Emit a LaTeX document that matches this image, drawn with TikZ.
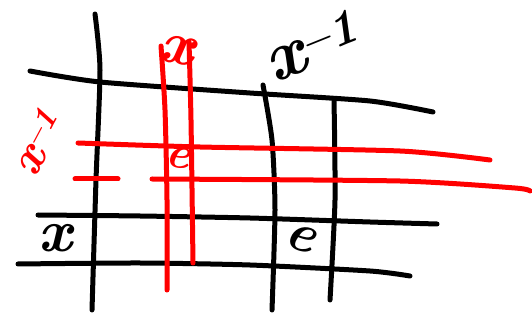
\documentclass[tikz,border=0pt]{standalone}
\begin{document}
\begin{tikzpicture}[x=1pt,y=-1pt,
  blk/.style={line width=5pt,line cap=round,line join=round,black},
  rd/.style={line width=5pt,line cap=round,line join=round,red},
  lbl/.style={inner sep=0pt}]
\useasboundingbox (0,0) rectangle (532,328);
% black horizontals
\draw[blk] plot[smooth,tension=0.4] coordinates {(30,71) (100,82) (250,93) (370,101) (433,112)};
\draw[blk] plot[smooth,tension=0.4] coordinates {(38,215) (140,216) (250,218) (370,222) (437,224)};
\draw[blk] plot[smooth,tension=0.4] coordinates {(18,264) (140,263) (250,265) (370,271) (410,276)};
% black verticals
\draw[blk] plot[smooth,tension=0.4] coordinates {(95,14) (100,70) (96,180) (92,310)};
\draw[blk] plot[smooth,tension=0.4] coordinates {(263,85) (272,140) (275,210) (272,310)};
\draw[blk] plot[smooth,tension=0.4] coordinates {(334,100) (335,200) (330,300)};
% red verticals
\draw[rd] plot[smooth,tension=0.4] coordinates {(161,46) (165,110) (167,200) (167,290)};
\draw[rd] plot[smooth,tension=0.4] coordinates {(189,42) (191,120) (193,263)};
% red horizontals
\draw[rd] plot[smooth,tension=0.4] coordinates {(78,143) (200,147) (400,151) (490,160)};
\draw[rd] (75,179) -- (118,179);
\draw[rd] plot[smooth,tension=0.4] coordinates {(152,179) (400,181) (515,188) (530,191)};
% labels
\node[lbl,red,rotate=-10,font=\bfseries\itshape\fontsize{60}{60}\selectfont] (xr) at (177,50) {x};
\node[lbl,red,rotate=62,font=\bfseries\itshape\fontsize{48}{48}\selectfont] (xir) at (38,142) {x\textsuperscript{\textendash1}};
\node[lbl,rotate=22,font=\bfseries\itshape\fontsize{70}{70}\selectfont] (xib) at (312,46) {x\textsuperscript{\textendash1}};
\node[lbl,font=\bfseries\itshape\fontsize{60}{60}\selectfont] (xb) at (55,238) {x};
\node[lbl,rotate=-20,font=\bfseries\itshape\fontsize{55}{55}\selectfont] (eb) at (300,238) {e};
\node[lbl,red,rotate=-10,font=\bfseries\itshape\fontsize{45}{45}\selectfont] (er) at (178,158) {e};
\end{tikzpicture}
\end{document}
